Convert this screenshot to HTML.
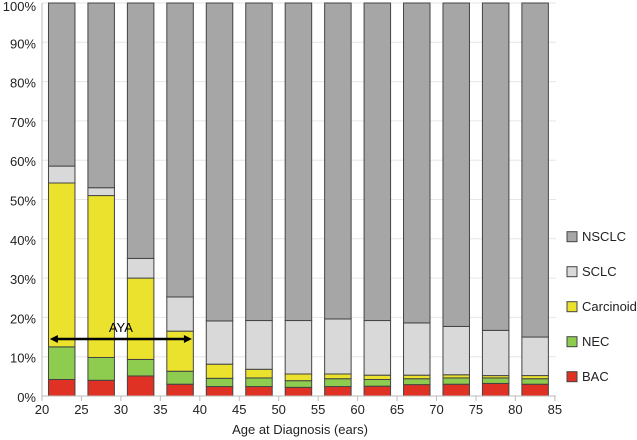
<!DOCTYPE html>
<html><head><meta charset="utf-8"><style>
body{margin:0;background:#fff;}
svg{display:block;font-family:"Liberation Sans",sans-serif;}
</style></head><body>
<svg id="chart" width="637" height="440"></svg>
<script>
const ages = [20,25,30,35,40,45,50,55,60,65,70,75,80];
const xTicks = [20,25,30,35,40,45,50,55,60,65,70,75,80,85];
const yTicks = [0,10,20,30,40,50,60,70,80,90,100];
const seriesNames = ["BAC","NEC","Carcinoid","SCLC","NSCLC"];
const bac = [4.2,4.0,5.1,3.0,2.4,2.4,2.2,2.4,2.5,2.9,3.0,3.2,3.0];
const nec = [8.3,5.8,4.2,3.3,2.1,2.2,1.7,2.0,1.7,1.5,1.6,1.4,1.4];
const carcinoid = [41.7,41.2,20.7,10.2,3.6,2.2,1.7,1.2,1.1,0.9,0.8,0.6,0.8];
const sclc = [4.3,2.0,5.0,8.7,11.0,12.4,13.6,14.0,13.9,13.3,12.3,11.5,9.8];
const ayaRange = [21, 39];
const ayaLevel = 14.5;

const colors = {BAC:"#e03224",NEC:"#8dcc4e",Carcinoid:"#ebe22e",SCLC:"#d9d9d9",NSCLC:"#a6a6a6"};
const svg = document.getElementById('chart');
const NS = "http://www.w3.org/2000/svg";
const x0 = 42, xStep = 39.45, y0 = 396, yScale = 3.93;
function xPos(age){ return x0 + (age-20)/5*xStep; }
function yPos(v){ return y0 - v*yScale; }
function mk(tag, attrs){ const e=document.createElementNS(NS,tag); for(const k in attrs) e.setAttribute(k,attrs[k]); svg.appendChild(e); return e; }

yTicks.forEach(t=>{
  const g = mk('line',{x1:x0,x2:556,y1:yPos(t),y2:yPos(t),stroke:"#e6e6e6","stroke-width":1});
  
  
  const l = mk('text',{x:36,y:Math.max(yPos(t)+6,11),"text-anchor":"end","font-size":13,fill:"#222"});
  l.textContent = t+'%';
  
  
});
const ya = mk('line',{x1:x0,x2:x0,y1:yPos(100),y2:y0,stroke:"#bbb"});



ages.forEach((a,i)=>{
  const cx = xPos(a+2.5), w = 26.5;
  let cum = 0;
  const vals = [bac[i],nec[i],carcinoid[i],sclc[i],100-(bac[i]+nec[i]+carcinoid[i]+sclc[i])];
  vals.forEach((v,j)=>{
    const r = mk('rect',{x:cx-w/2,y:yPos(cum+v),width:w,height:v*yScale,fill:colors[seriesNames[j]],stroke:"#444","stroke-width":1});
    
    
    cum += v;
  });
});

const xa = mk('line',{x1:x0,x2:556,y1:y0,y2:y0,stroke:"#bbb"});


xTicks.forEach(t=>{
  const tk = mk('line',{x1:xPos(t),x2:xPos(t),y1:y0,y2:y0+5,stroke:"#bbb"});
  
  
  const l = mk('text',{x:xPos(t),y:414,"text-anchor":"middle","font-size":13,fill:"#222"});
  l.textContent = t;
  
  
});
const xt = mk('text',{x:300,y:434,"text-anchor":"middle","font-size":13,fill:"#222"});
xt.textContent = 'Age at Diagnosis (ears)';



const ay = yPos(ayaLevel), ax1 = xPos(ayaRange[0]), ax2 = xPos(ayaRange[1]);
const al = mk('line',{x1:ax1+4,x2:ax2-4,y1:ay,y2:ay,stroke:"#000","stroke-width":2.5});


const h1 = mk('polygon',{points:`${ax1},${ay} ${ax1+8},${ay-4} ${ax1+8},${ay+4}`,fill:"#000"});


const h2 = mk('polygon',{points:`${ax2},${ay} ${ax2-8},${ay-4} ${ax2-8},${ay+4}`,fill:"#000"});


const at = mk('text',{x:(ax1+ax2)/2,y:ay-7,"text-anchor":"middle","font-size":13,fill:"#000"});
at.textContent = 'AYA';



const legendOrder = ["NSCLC","SCLC","Carcinoid","NEC","BAC"];
const legendY = [236.7,271.7,306.7,341.7,376.7];
legendOrder.forEach((n,i)=>{
  const b = mk('rect',{x:567,y:legendY[i]-5,width:10,height:10,fill:colors[n],stroke:"#444","stroke-width":1});
  
  
  const t = mk('text',{x:582,y:legendY[i]+4.5,"font-size":13,fill:"#222"});
  t.textContent = n;
  
  
});
</script>
</body></html>
